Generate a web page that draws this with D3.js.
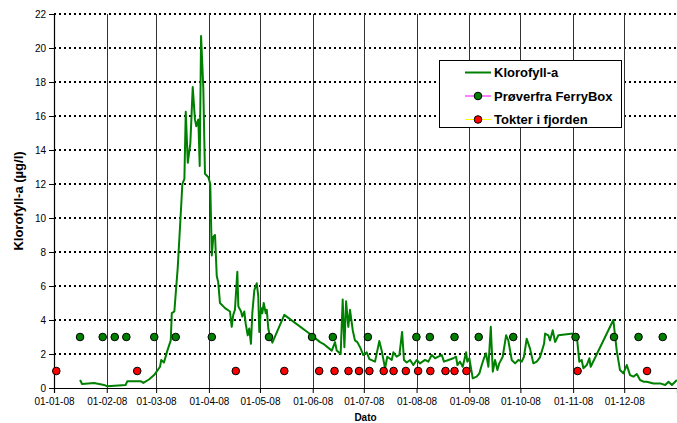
<!DOCTYPE html>
<html><head><meta charset="utf-8">
<script src="https://cdn.jsdelivr.net/npm/d3@7"></script>
<style>body{margin:0;background:#fff}svg{display:block}text{font-family:"Liberation Sans",Arial,sans-serif}</style>
</head><body><svg id="c" width="677" height="423"></svg>
<script>
// Day-of-year (2008, day 0 = 1 Jan) and chlorophyll values
const lineDays = [15.3,16.5,23.5,29.4,31.3,42.1,43.1,50.9,52.5,55.8,58.8,62.3,63.0,64.6,66.6,68.6,69.2,70.7,72.7,74.6,75.4,76.6,77.4,78.6,80.1,81.5,82.8,83.6,84.8,85.6,86.4,87.7,88.7,90.7,91.8,92.7,93.6,94.6,95.6,96.5,97.5,100.5,103.4,104.4,105.3,106.3,107.7,108.3,109.9,110.6,111.8,112.6,113.8,114.7,115.7,116.5,117.7,119.1,120.0,120.6,121.6,122.4,123.2,124.4,125.0,125.9,126.9,128.3,135.3,151.4,156.3,158.2,163.2,165.1,166.1,168.4,169.6,170.6,171.6,172.9,173.9,175.5,176.8,178.2,179.8,181.7,183.7,185.3,188.6,191.1,192.5,194.5,195.8,198.4,199.4,201.3,202.9,204.5,205.6,207.2,209.2,211.1,213.1,215.0,218.0,219.9,221.9,223.9,225.8,227.8,229.1,231.7,234.6,236.2,237.0,238.5,240.1,241.5,242.1,242.8,244.0,246.0,248.3,249.9,251.3,252.6,253.8,255.2,256.6,257.8,259.1,260.5,261.6,263.6,265.6,266.9,268.9,270.9,272.8,274.8,276.1,277.7,279.7,281.6,283.6,285.5,287.9,288.5,290.4,291.4,293.0,294.4,296.3,305.1,307.1,308.6,310.0,311.0,313.0,314.5,315.3,328.6,330.6,332.5,334.5,336.5,338.4,340.4,342.4,344.3,346.3,348.2,352.2,356.1,359.1,361.0,363.0,364.9,365.9];
const lineValues = [0.47,0.24,0.3,0.18,0.1,0.18,0.4,0.4,0.3,0.5,0.76,1.25,1.65,1.5,2.2,2.8,4.4,4.5,7.1,10.5,12.0,12.3,16.25,13.25,14.4,17.7,15.8,15.4,15.8,13.06,20.7,17.7,12.6,12.4,12.0,7.8,8.9,9.0,6.6,6.2,5.0,4.7,4.5,3.6,4.3,4.6,6.84,4.8,4.5,4.2,4.5,3.8,3.1,3.5,2.6,4.4,5.76,6.16,5.4,3.3,4.7,4.4,5.0,4.4,4.6,3.5,3.0,2.67,4.3,3.1,2.7,2.6,2.2,2.7,2.2,2.0,5.2,2.4,5.1,3.6,4.6,3.4,2.8,2.7,2.4,1.94,2.1,1.7,1.55,2.76,2.2,1.16,1.84,1.65,2.1,1.84,1.94,3.3,1.65,1.5,1.65,1.35,1.65,1.45,1.65,1.55,1.94,1.75,1.84,1.94,1.55,1.65,1.75,1.84,1.35,1.55,1.25,1.84,2.1,1.55,1.75,0.57,0.67,0.86,1.35,1.75,2.04,1.25,3.6,0.96,1.65,1.06,1.45,1.84,3.1,2.8,1.65,1.45,1.65,1.55,1.84,2.9,2.3,1.45,1.55,1.8,2.6,3.2,3.1,2.8,3.4,2.7,3.1,3.2,3.1,1.55,1.65,1.16,1.35,1.75,1.25,4.0,2.2,1.06,0.86,1.35,0.76,0.67,0.82,0.47,0.37,0.37,0.27,0.27,0.18,0.37,0.18,0.37,0.47];
const ferryDays = [15.3,28.6,35.7,42.5,58.9,71.5,92.7,126.3,151.6,163.8,184.4,212.9,220.8,235.3,249.5,269.8,306.4,329.0,343.4,357.6];
const ferryValues = ferryDays.map(() => 3);
const cruiseDays = [1.35,48.9,106.8,135.3,155.8,164.8,173.0,179.2,185.3,193.7,199.5,206.7,213.9,221.1,230.0,235.3,242.3,307.6,348.4];
const cruiseValues = cruiseDays.map(() => 1);
const yTicks = [0,2,4,6,8,10,12,14,16,18,20,22];
const monthStarts = ["2008-01-01","2008-02-01","2008-03-01","2008-04-01","2008-05-01","2008-06-01","2008-07-01","2008-08-01","2008-09-01","2008-10-01","2008-11-01","2008-12-01"];
const legendLabels = ["Klorofyll-a","Prøverfra FerryBox","Tokter i fjorden"];
const yTitle = "Klorofyll-a (µg/l)";
const xTitle = "Dato";

const t0 = Date.UTC(2008,0,1);
const toDate = d => new Date(t0 + d*864e5);
const svg = d3.select("#c");
const L = 54, R = 677, T = 14, B = 388;
const x = d3.scaleUtc().domain([new Date(t0), new Date(Date.UTC(2009,0,1))]).range([L, R]);
const y = d3.scaleLinear().domain([0,22]).range([B, T]);
const months = monthStarts.map(s => new Date(s + "T00:00:00Z"));

// horizontal dotted grid
svg.append("g").selectAll("line").data(yTicks.filter(v => v > 0)).join("line")
  .attr("x1", L).attr("x2", R).attr("y1", d => y(d)).attr("y2", d => y(d))
  .attr("stroke", "#000").attr("stroke-width", 2).attr("stroke-dasharray", "2,3");
// vertical grid
svg.append("g").selectAll("line").data(months.slice(1)).join("line")
  .attr("x1", d => Math.round(x(d)) + 0.5).attr("x2", d => Math.round(x(d)) + 0.5)
  .attr("y1", T).attr("y2", B).attr("stroke", "#333").attr("stroke-width", 1);

// axes
const yAxis = d3.axisLeft(y).tickValues(yTicks).tickSize(5).tickPadding(3);
const gy = svg.append("g").attr("transform", `translate(${L},0)`).call(yAxis);
const xAxis = d3.axisBottom(x).tickValues(months).tickSize(5).tickPadding(5).tickFormat(d3.utcFormat("%d-%m-%y"));
const gx = svg.append("g").attr("transform", `translate(0,${B})`).call(xAxis);
[gx, gy].forEach(g => {
  g.select(".domain").attr("stroke", "#000").attr("stroke-width", 1.2);
  g.selectAll(".tick line").attr("stroke", "#000");
  g.selectAll("text").attr("font-size", 10).attr("fill", "#000").attr("font-family", "Liberation Sans, Arial, sans-serif");
});
gy.select(".domain").attr("d", `M0.5,${B}V${T}`);

// line
const pts = lineDays.map((d, i) => [d, lineValues[i]]);
svg.append("path").datum(pts)
  .attr("d", d3.line().x(p => x(toDate(p[0]))).y(p => y(p[1])))
  .attr("fill", "none").attr("stroke", "#008000").attr("stroke-width", 2).attr("stroke-linejoin", "round");

// dots
function dots(days, vals, color) {
  svg.append("g").selectAll("circle").data(days).join("circle")
    .attr("cx", (d) => x(toDate(d))).attr("cy", (d, i) => y(vals[i])).attr("r", 3.8)
    .attr("fill", color).attr("stroke", "#000").attr("stroke-width", 1);
}
dots(ferryDays, ferryValues, "#008000");
dots(cruiseDays, cruiseValues, "#ff0000");

// titles
svg.append("text").attr("transform", `translate(18,${(T+B)/2}) rotate(-90)`).attr("text-anchor", "middle")
  .attr("font-size", 13).attr("font-weight", "bold").attr("dy", "0.35em").text(yTitle);
svg.append("text").attr("x", (L+R)/2).attr("y", 421).attr("text-anchor", "middle")
  .attr("font-size", 10).attr("font-weight", "bold").text(xTitle);

// legend
const lg = svg.append("g");
lg.append("rect").attr("x", 439.5).attr("y", 60.5).attr("width", 182).attr("height", 67)
  .attr("fill", "#fff").attr("stroke", "#000").attr("stroke-width", 1);
const rowsY = [72.5, 96, 119.5];
lg.append("line").attr("x1", 465).attr("x2", 491).attr("y1", rowsY[0]).attr("y2", rowsY[0]).attr("stroke", "#008000").attr("stroke-width", 2);
lg.append("line").attr("x1", 465).attr("x2", 491).attr("y1", rowsY[1]).attr("y2", rowsY[1]).attr("stroke", "#ff00ff").attr("stroke-width", 1);
lg.append("circle").attr("cx", 478).attr("cy", rowsY[1]).attr("r", 3.8).attr("fill", "#008000").attr("stroke", "#000");
lg.append("line").attr("x1", 465).attr("x2", 491).attr("y1", rowsY[2]).attr("y2", rowsY[2]).attr("stroke", "#ffff00").attr("stroke-width", 1);
lg.append("circle").attr("cx", 478).attr("cy", rowsY[2]).attr("r", 3.8).attr("fill", "#ff0000").attr("stroke", "#000");
lg.selectAll("text.l").data(legendLabels).join("text").attr("class", "l")
  .attr("x", 494).attr("y", (d, i) => rowsY[i]).attr("dy", "0.35em")
  .attr("font-size", 13).attr("font-weight", "bold").text(d => d);
</script></body></html>
